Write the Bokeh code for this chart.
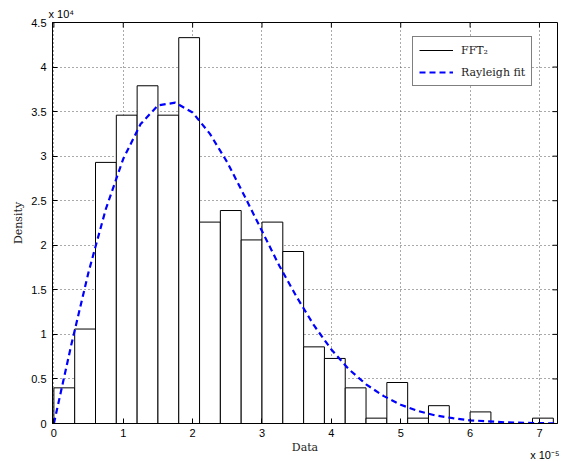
import math
from bokeh.plotting import figure
from bokeh.models import (Range1d, FixedTicker, Title, Legend,
                          LegendItem, ColumnDataSource)
from bokeh.embed import file_html
from bokeh.resources import INLINE

# ---- data (x in units of 1e-5, density in units of 1e4) ----
bin_left = [0.0, 0.3, 0.6, 0.9, 1.2, 1.5, 1.8, 2.1, 2.4, 2.7, 3.0, 3.3,
            3.6, 3.9, 4.2, 4.5, 4.8, 5.1, 5.4, 5.7, 6.0, 6.3, 6.6, 6.9]
bin_right = [0.3, 0.6, 0.9, 1.2, 1.5, 1.8, 2.1, 2.4, 2.7, 3.0, 3.3, 3.6,
             3.9, 4.2, 4.5, 4.8, 5.1, 5.4, 5.7, 6.0, 6.3, 6.6, 6.9, 7.2]
hist_density = [0.40, 1.06, 2.93, 3.46, 3.79, 3.46, 4.33, 2.26, 2.39, 2.06,
                2.26, 1.93, 0.86, 0.73, 0.40, 0.06, 0.46, 0.06, 0.20, 0.0,
                0.13, 0.0, 0.0, 0.06]

fit_x = [0.0, 0.25, 0.5, 0.75, 1.0, 1.25, 1.5, 1.75, 2.0, 2.25, 2.5, 2.75,
         3.0, 3.25, 3.5, 3.75, 4.0, 4.25, 4.5, 4.75, 5.0, 5.25, 5.5, 5.75,
         6.0, 6.5, 7.0, 7.25]
fit_y = [0.0, 0.88, 1.70, 2.41, 2.97, 3.36, 3.57, 3.60, 3.49, 3.25, 2.93,
         2.55, 2.16, 1.77, 1.42, 1.10, 0.83, 0.61, 0.44, 0.31, 0.21, 0.14,
         0.09, 0.06, 0.036, 0.013, 0.004, 0.002]

x_ticks = [0, 1, 2, 3, 4, 5, 6, 7]
x_tick_labels = ["0", "1", "2", "3", "4", "5", "6", "7"]
y_ticks = [0, 0.5, 1, 1.5, 2, 2.5, 3, 3.5, 4, 4.5]
y_tick_labels = ["0", "0.5", "1", "1.5", "2", "2.5", "3", "3.5", "4", "4.5"]

legend_labels = ["FFT\u2082", "Rayleigh fit"]
x_label = "Data"
y_label = "Density"
x_exponent = "x 10\u207b\u2075"
y_exponent = "x 10\u2074"

x_min, x_max = -0.02, 7.26
y_min, y_max = 0.0, 4.5

SANS = "Liberation Sans"
SERIF = "DejaVu Serif"

p = figure(frame_width=505, frame_height=401,
           min_border_left=52, min_border_right=8,
           min_border_top=22, min_border_bottom=37,
           x_range=Range1d(x_min, x_max), y_range=Range1d(y_min, y_max),
           output_backend="svg", toolbar_location=None,
           background_fill_color="white", border_fill_color="white")

p.outline_line_color = "black"
p.outline_line_width = 1

# grid
for g in (p.xgrid, p.ygrid):
    g.grid_line_color = "#555555"
    g.grid_line_dash = "1 3"
    g.grid_line_width = 1
p.xgrid.ticker = FixedTicker(ticks=x_ticks)
p.ygrid.ticker = FixedTicker(ticks=y_ticks)

# axes
def style_axis(ax, ticks, labels):
    ax.ticker = FixedTicker(ticks=ticks)
    ax.major_label_overrides = {t: l for t, l in zip(ticks, labels)}
    ax.major_tick_in = 5
    ax.major_tick_out = 0
    ax.minor_tick_line_color = None
    ax.axis_line_color = "black"
    ax.axis_line_width = 1
    ax.major_tick_line_color = "black"
    ax.major_label_text_font = SANS
    ax.major_label_text_font_size = "11px"
    ax.major_label_text_color = "black"

xa = p.xaxis[0]
ya = p.yaxis[0]
style_axis(xa, x_ticks, x_tick_labels)
style_axis(ya, y_ticks, y_tick_labels)
xa.major_label_standoff = 5
ya.major_label_standoff = 6
ya.axis_label = y_label
ya.axis_label_text_font = SERIF
ya.axis_label_text_font_size = "11px"
ya.axis_label_text_font_style = "normal"
ya.axis_label_text_color = "#222222"
ya.axis_label_standoff = 3

# inward ticks on the top and right edges of the box
p.ray(x=x_ticks, y=[y_max] * len(x_ticks), length=5, length_units="screen",
      angle=-math.pi / 2, line_color="black", line_width=1)
p.ray(x=[x_max] * len(y_ticks), y=y_ticks, length=5, length_units="screen",
      angle=math.pi, line_color="black", line_width=1)

# histogram
hist_src = ColumnDataSource(dict(left=bin_left, right=bin_right,
                                 top=hist_density,
                                 bottom=[0.0] * len(hist_density)))
p.quad(left="left", right="right", top="top", bottom="bottom",
       source=hist_src, fill_color="white", line_color="black",
       line_width=1)

# rayleigh fit
fit_r = p.line(fit_x, fit_y, line_color="#0000FF", line_width=2.2,
               line_dash="6 4")

# legend proxy for histogram (solid black line, not drawn in the plot)
proxy = p.line(x=[float("nan")], y=[float("nan")], line_color="black",
               line_width=1)

legend = Legend(items=[LegendItem(label=legend_labels[0], renderers=[proxy]),
                       LegendItem(label=legend_labels[1], renderers=[fit_r])],
                location=(360, 337))
legend.border_line_color = "black"
legend.border_line_width = 1.5
legend.background_fill_color = "white"
legend.background_fill_alpha = 1
legend.label_text_font = SERIF
legend.label_text_font_size = "11px"
legend.label_text_color = "#222222"
legend.glyph_width = 34
legend.glyph_height = 14
legend.label_height = 14
legend.label_standoff = 8
legend.spacing = 8
legend.padding = 6
legend.margin = 0
p.add_layout(legend, "center")

# y exponent above the box
top_t = Title(text=y_exponent, align="left", offset=-4, standoff=6,
              text_font=SANS, text_font_size="11px",
              text_font_style="normal", text_color="black")
p.add_layout(top_t, "above")

# x label and x exponent below the axis
xlab_t = Title(text=x_label, align="center", standoff=-1,
               vertical_align="bottom",
               text_font=SERIF, text_font_size="11px",
               text_font_style="normal", text_color="#222222")
p.add_layout(xlab_t, "below")
bot_t = Title(text=x_exponent, align="right", offset=-2, standoff=-15,
              vertical_align="bottom",
              text_font=SANS, text_font_size="11px",
              text_font_style="normal", text_color="black")
p.add_layout(bot_t, "below")

open("out.html", "w").write(file_html(p, INLINE))
